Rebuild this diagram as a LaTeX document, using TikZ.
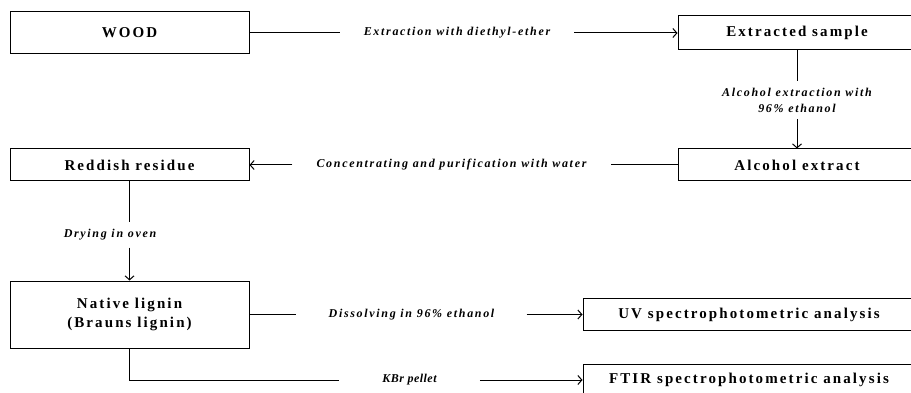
\documentclass[tikz,border=0pt]{standalone}
\usepackage{fontspec}
\setmainfont{Liberation Serif}
\newfontfamily\boxfont{Liberation Serif}[LetterSpace=14]
\newfontfamily\labelfont{Liberation Serif}[LetterSpace=14]
\newfontfamily\tightfont{Liberation Serif}[LetterSpace=4]
\usetikzlibrary{arrows.meta}
\tikzset{
    flowbox/.style={rectangle, draw=black, line width=1pt, inner sep=0pt, align=center, minimum width=239pt, minimum height=32pt, font=\boxfont\bfseries\fontsize{15}{19}\selectfont},
    flowlabel/.style={inner xsep=24pt, inner ysep=7pt, align=center, font=\labelfont\bfseries\itshape\fontsize{12}{16}\selectfont},
    edge/.style={draw=black, line width=1pt}
}

\begin{document}
\begin{tikzpicture}[
        arrow/.style={edge, -{Straight Barb[length=4pt,width=9pt]}},
        x=1pt, y=-1pt
    ]
    \useasboundingbox (0,0) rectangle (911,393);
    \clip (0,0) rectangle (911,393);
    % --- Boxes ---
    \node[flowbox, minimum height=42pt] (wood) at (129.5, 33) {WOOD};
    \node[flowbox, minimum width=238pt, minimum height=34pt] (sample) at (797, 33) {Extracted sample};
    \node[flowbox, minimum width=238pt] (alcohol) at (797, 165) {Alcohol extract};
    \node[flowbox] (residue) at (129.5, 165) {Reddish residue};
    \node[flowbox, minimum height=67pt] (lignin) at (129.5, 314.5) {Native lignin\\(Brauns lignin)};
    \node[flowbox, minimum width=332pt] (uv) at (749, 314.5) {UV spectrophotometric analysis};
    \node[flowbox, minimum width=332pt] (ftir) at (749, 380) {FTIR spectrophotometric analysis};
    % --- Labels ---
    \node[flowlabel] (lext) at (457, 33) {Extraction with diethyl-ether};
    \node[flowlabel] (lalc) at (797, 100) {Alcohol extraction with\\96\% ethanol};
    \node[flowlabel] (lconc) at (451.5, 165) {Concentrating and purification with water};
    \node[flowlabel] (ldry) at (110, 235) {Drying in oven};
    \node[flowlabel, inner xsep=32pt] (ldiss) at (411.5, 314.5) {Dissolving in 96\% ethanol};
    \node[flowlabel, inner xsep=43pt, font=\tightfont\bfseries\itshape\fontsize{12}{16}\selectfont] (lkbr) at (409.5, 380) {KBr pellet};
    % --- Connectors ---
    \draw[edge] (wood) -- (lext);
    \draw[arrow] (lext) -- (sample);
    \draw[edge] (sample) -- (lalc);
    \draw[arrow] (lalc) -- (alcohol);
    \draw[edge] (alcohol) -- (lconc);
    \draw[arrow] (lconc) -- (residue);
    \draw[edge] (residue) -- (residue |- ldry.north);
    \draw[arrow] (residue |- ldry.south) -- (lignin);
    \draw[edge] (lignin) -- (ldiss);
    \draw[arrow] (ldiss) -- (uv);
    \draw[edge] (lignin) |- (lkbr);
    \draw[arrow] (lkbr) -- (ftir);
\end{tikzpicture}
\end{document}
